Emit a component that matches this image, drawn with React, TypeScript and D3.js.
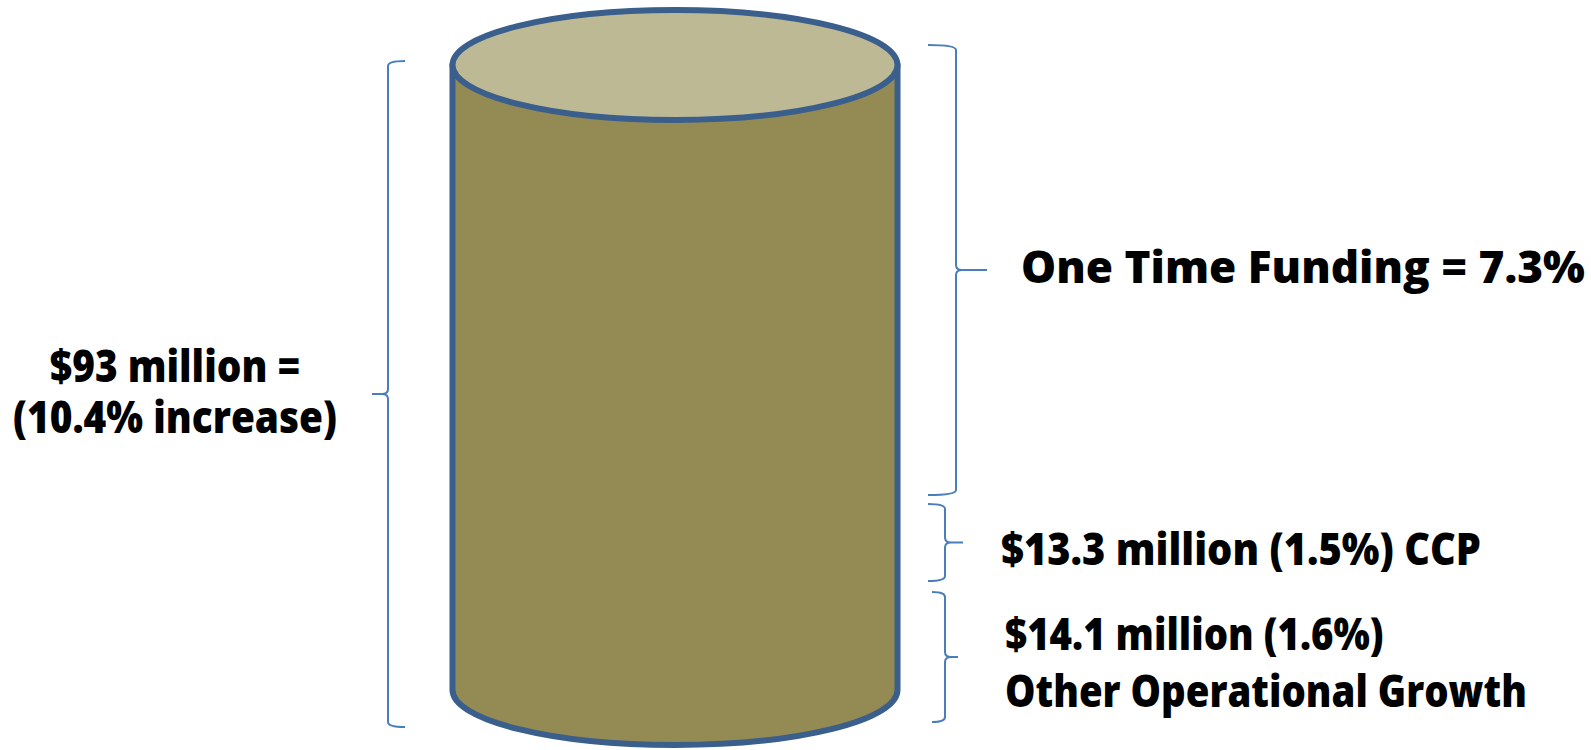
import React, { useLayoutEffect, useRef, useState } from "react";
import * as d3 from "d3";

// ---- data ----
const totalLabel = ["$93 million =", "(10.4% increase)"];
const segmentLabels = [
  ["One Time Funding = 7.3%"],
  ["$13.3 million (1.5%) CCP"],
  ["$14.1 million (1.6%)", "Other Operational Growth"],
];
// brace extents on a 0..100 "stack height" scale (low, high)
const totalSpan = [0, 97.65];
const segmentSpans = [
  [34.0, 100],
  [21.4, 32.7],
  [0.73, 19.8],
];

const W = 1591;
const H = 750;

function bracePath(xv: number, xh: number, xt: number, y0: number, y1: number) {
  const ym = (y0 + y1) / 2;
  const r = 5;
  const dir = xt > xv ? 1 : -1;
  const p = d3.path();
  p.moveTo(xh, y0);
  p.quadraticCurveTo(xv, y0, xv, y0 + r);
  p.lineTo(xv, ym - r);
  p.quadraticCurveTo(xv, ym, xv + dir * 6, ym);
  p.lineTo(xt, ym);
  p.moveTo(xv + dir * 6, ym);
  p.quadraticCurveTo(xv, ym, xv, ym + r);
  p.lineTo(xv, y1 - r);
  p.quadraticCurveTo(xv, y1, xh, y1);
  return p.toString();
}

// text blocks: anchor x, first baseline, line gap, target width of the widest line
const blocks = [
  { lines: totalLabel, x: 175, y: 382, gap: 51, target: 324, anchor: "middle" },
  { lines: segmentLabels[0], x: 1021, y: 283, gap: 0, target: 564, anchor: "start" },
  { lines: segmentLabels[1], x: 1001, y: 565, gap: 0, target: 480, anchor: "start" },
  { lines: segmentLabels[2], x: 1005, y: 650, gap: 57, target: 522, anchor: "start" },
];

export default function App() {
  const y = d3.scaleLinear().domain([0, 100]).range([727, 45]);
  const refs = useRef<(SVGTextElement | null)[]>([]);
  const [scales, setScales] = useState<number[]>(blocks.map(() => 1));

  useLayoutEffect(() => {
    const ks = blocks.map((b, i) => {
      const el = refs.current[i];
      if (!el) return 1;
      const spans = Array.from(el.querySelectorAll("tspan")) as SVGTextContentElement[];
      const widths = spans.map((s) => s.getComputedTextLength());
      const maxW = Math.max(...widths);
      return maxW > 0 ? b.target / maxW : 1;
    });
    setScales(ks);
  }, []);

  const cx = 675;
  const rx = 222.5;
  const ry = 55;
  const topCy = 65;
  const botCy = 690;

  const sidePath =
    `M${cx - rx},${topCy} L${cx - rx},${botCy} ` +
    `A${rx},${ry} 0 0 0 ${cx + rx},${botCy} L${cx + rx},${topCy} Z`;

  const stroke = "#3A5F8D";
  const braceColor = "#4A7EBB";
  const font = "'Open Sans', 'Liberation Sans', sans-serif";

  const segX = [
    { xv: 956, xh: 928, xt: 987 },
    { xv: 945, xh: 928, xt: 963 },
    { xv: 945, xh: 932, xt: 958 },
  ];

  return (
    <svg
      width={W}
      height={H}
      style={{ position: "absolute", left: 0, top: 0, display: "block", background: "#fff" }}
    >
      <path d={sidePath} fill="#948A54" stroke={stroke} strokeWidth={6} strokeLinejoin="round" />
      <ellipse cx={cx} cy={topCy} rx={rx} ry={ry} fill="#BEB995" stroke={stroke} strokeWidth={6} />

      <path
        d={bracePath(388, 405, 372, y(totalSpan[1]), y(totalSpan[0]))}
        fill="none"
        stroke={braceColor}
        strokeWidth={2}
      />
      {segmentSpans.map((s, i) => (
        <path
          key={"b" + i}
          d={bracePath(segX[i].xv, segX[i].xh, segX[i].xt, y(s[1]), y(s[0]))}
          fill="none"
          stroke={braceColor}
          strokeWidth={2}
        />
      ))}

      {blocks.map((b, i) => (
        <g key={"t" + i} transform={`translate(${b.x},${b.y}) scale(${scales[i]},1)`}>
          <text
            ref={(el) => {
              refs.current[i] = el;
            }}
            textAnchor={b.anchor as any}
            fontFamily={font}
            fontWeight={800}
            fontSize={45}
            fill="#000"
          >
            {b.lines.map((t, j) => (
              <tspan key={t} x={0} y={j * b.gap}>
                {t}
              </tspan>
            ))}
          </text>
        </g>
      ))}
    </svg>
  );
}
